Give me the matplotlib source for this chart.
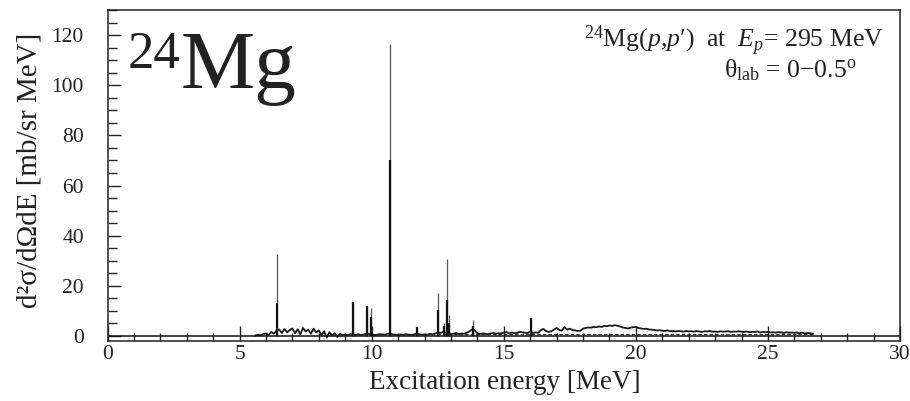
import numpy as np
import matplotlib
matplotlib.use("Agg")
import matplotlib.pyplot as plt
from matplotlib.ticker import MultipleLocator

plt.rcParams['font.family'] = ['Liberation Serif', 'DejaVu Serif']
plt.rcParams['mathtext.fontset'] = 'custom'
plt.rcParams['mathtext.rm'] = 'Liberation Serif'
plt.rcParams['mathtext.it'] = 'Liberation Serif:italic'

# ---- data ----
e_start = 5.6
e_step = 0.1
continuum = [
    0.2, 0.5, 0.3, 0.8,
    1.0, 0.4, 1.6, 0.9, 2.2, 2.6, 1.2, 2.8, 1.5, 2.4,
    3.0, 1.1, 2.7, 0.6, 3.2, 1.8, 2.5, 0.9, 2.9, 1.4,
    2.2, 0.3, 1.9, -0.6, 1.5, 0.2, 1.1, -0.4, 0.9, 0.3,
    0.6, 0.2, 0.8, 0.5, 0.4, 0.7, 0.3, 0.6, 0.9, 0.8,
    0.6, 0.4, 0.5, 0.7, 0.6, 0.5, 0.9, 1.0, 0.6, 0.5,
    0.4, 0.6, 0.5, 0.7, 0.5, 0.4, 0.6, 1.0, 0.7, 0.5,
    0.6, 0.5, 0.8, 0.7, 1.0, 1.4, 1.2, 1.6, 1.3, 1.1,
    0.8, 0.9, 1.2, 0.7, 1.0, 0.9, 1.3, 1.8, 2.6, 2.2,
    1.1, 0.8, 1.0, 0.9, 0.7, 1.0, 1.2, 0.9, 1.1, 1.0,
    1.3, 1.6, 1.0, 1.4, 1.1, 1.2, 1.6, 1.5, 1.3, 1.2,
    1.8, 1.2, 1.4, 1.3, 2.3, 2.8, 2.0, 1.6, 1.9, 2.5,
    3.2, 2.4, 2.1, 3.6, 2.5, 2.9, 2.4, 2.2, 2.0, 2.1,
    2.9, 3.2, 3.4, 3.3, 3.6, 3.5, 3.8, 3.6, 4.0, 3.9,
    4.2, 4.0, 4.3, 4.1, 3.8, 3.4, 3.2, 3.0, 3.3, 3.5,
    3.6, 3.2, 3.0, 2.8, 2.9, 2.6, 2.5, 2.4, 2.2, 2.3,
    2.1, 2.0, 2.2, 1.9, 2.0, 1.8, 2.0, 1.9, 1.7, 2.0,
    1.8, 1.9, 1.7, 2.0, 1.8, 1.6, 1.9, 1.8, 2.0, 1.7,
    1.8, 1.6, 1.9, 1.7, 1.8, 1.9, 1.6, 1.8, 1.7, 1.9,
    1.7, 1.6, 1.8, 1.5, 1.7, 1.6, 1.8, 1.4, 1.6, 1.5,
    1.6, 1.4, 1.5, 1.3, 1.6, 1.4, 1.2, 1.5, 1.3, 1.4,
    1.2, 1.4, 1.1, 1.3, 1.0, 1.2, 1.1, 0.9,
]
peak_energy = [6.43, 9.30, 9.83, 9.97, 10.71, 11.73, 12.52, 12.75, 12.84, 12.92, 13.85, 16.05]
peak_fine = [32.5, 13.5, 12.0, 11.0, 116.5, 3.7, 17.0, 5.0, 30.8, 8.4, 6.4, 7.2]
peak_coarse = [13.0, 13.5, 12.0, 7.5, 70.0, 3.7, 10.4, 4.0, 14.4, 5.0, 4.0, 7.0]
bg_range = [11.0, 26.7]
bg_level = 0.6

xticks_major = [0, 5, 10, 15, 20, 25, 30]
yticks_major = [0, 20, 40, 60, 80, 100, 120]

# ---- figure ----
W, H = 910, 401
fig = plt.figure(figsize=(W / 100, H / 100), dpi=100)
ax = fig.add_axes([107.5 / W, 1 - 341 / H, (900 - 107.5) / W, (341 - 10) / H])
AW, AH = 900 - 107.5, 341 - 10

energies = e_start + e_step * np.arange(len(continuum))
ax.plot(energies, continuum, color='#1a1a1a', lw=1.3)
ax.vlines(peak_energy, 0, peak_fine, colors='#555555', lw=0.9)
ax.vlines(peak_energy, 0, peak_coarse, colors='#111111', lw=1.6)
ax.plot(bg_range, [bg_level, bg_level], ls=(0, (3, 2)), color='#222222', lw=0.8)
ax.axhline(0, color='#111111', lw=1.1)

ax.set_xlim(0, 30)
ax.set_ylim(-2, 130)
ax.set_xticks(xticks_major)
ax.set_yticks(yticks_major)
ax.xaxis.set_minor_locator(MultipleLocator(1))
ax.yaxis.set_minor_locator(MultipleLocator(5))
ax.tick_params(axis='both', which='both', direction='in', top=False, right=False,
               labelsize=15.5, width=1.0, color='#222222', labelcolor='#222222')
ax.tick_params(axis='x', which='major', length=11, pad=3)
ax.tick_params(axis='x', which='minor', length=5.8)
ax.tick_params(axis='y', which='major', length=9.5, pad=17)
ax.tick_params(axis='y', which='minor', length=6.5)
for s in ax.spines.values():
    s.set_linewidth(1.1)
    s.set_color('#222222')

ax.set_xlabel('Excitation energy [MeV]', fontsize=19.5, color='#222222')
ax.xaxis.set_label_coords((504.5 - 107.5) / AW, (341 - 370) / AH)
ax.set_ylabel('d²σ/dΩdE [mb/sr MeV]', fontsize=21, color='#222222')
ax.yaxis.set_label_coords((43 - 107.5) / AW, (341 - 170) / AH)

# big label
fig.text(180 / W, 1 - 31 / H, '24', fontsize=38, ha='right', va='top', color='#222222')
fig.text(181 / W, 1 - 88 / H, 'Mg', fontsize=60, ha='left', va='baseline', color='#222222')

# annotation
fig.text(884 / W, 1 - 47 / H, r'$^{24}$Mg($p$,$p$′)  at  $E_{p}$= 295 MeV',
         fontsize=18.5, ha='right', va='baseline', color='#222222')
fig.text(857 / W, 1 - 77 / H, r'θ$_{\rm lab}$ = 0−0.5$^{\rm o}$',
         fontsize=18.5, ha='right', va='baseline', color='#222222')

fig.savefig('out.png', dpi=100)
